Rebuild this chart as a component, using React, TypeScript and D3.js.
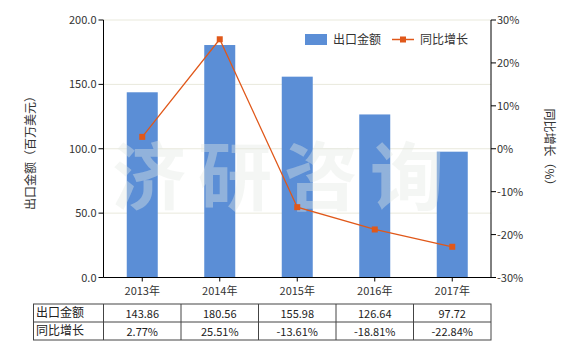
import React from "react";
import * as d3 from "d3";

const categories = ["2013年", "2014年", "2015年", "2016年", "2017年"];
const exportValues = [143.86, 180.56, 155.98, 126.64, 97.72];
const growthValues = [2.77, 25.51, -13.61, -18.81, -22.84];
const exportLabels = ["143.86", "180.56", "155.98", "126.64", "97.72"];
const growthLabels = ["2.77%", "25.51%", "-13.61%", "-18.81%", "-22.84%"];
const leftTicks = [0, 50, 100, 150, 200];
const rightTicks = [-30, -20, -10, 0, 10, 20, 30];
const seriesNames = ["出口金额", "同比增长"];

const W = 580, H = 350;
const L = 103.5, R = 491, T = 20, B = 277.5;
const font = "'Noto Sans CJK SC', 'DejaVu Sans', sans-serif";
const BAR = "#5B8ED6";
const LINE = "#E0581A";

export default function App() {
  const x = d3.scaleBand().domain(categories).range([L, R]).paddingInner(0.6).paddingOuter(0.3);
  const xc = (c: string) => (x(c) as number) + x.bandwidth() / 2;
  const yL = d3.scaleLinear().domain([0, 200]).range([B, T]);
  const yR = d3.scaleLinear().domain([-30, 30]).range([B, T]);
  const line = d3.line<number>().x((_, i) => xc(categories[i])).y((d) => yR(d));
  const step = (R - L) / categories.length;
  const tTop = 304, rowH = 18;
  const colX = (i: number) => L + i * step;

  return (
    <svg width={W} height={H} style={{ position: "absolute", left: 0, top: 0, background: "#fff" }} fontFamily={font}>
      {leftTicks.map((t) => (
        <line key={"g" + t} x1={L} x2={R} y1={yL(t)} y2={yL(t)} stroke="#e9e9dc" strokeWidth={1} />
      ))}
      {categories.map((c, i) => (
        <rect key={c} x={x(c)} y={yL(exportValues[i])} width={x.bandwidth()} height={B - yL(exportValues[i])} fill={BAR} />
      ))}
      <text x={284} y={204} textAnchor="middle" fontSize={74} fontWeight="bold" fill="#e4e8e4" fillOpacity={0.4} letterSpacing={12}>济研咨询</text>
      <path d={line(growthValues) || ""} fill="none" stroke={LINE} strokeWidth={1.3} />
      {growthValues.map((v, i) => (
        <rect key={i} x={xc(categories[i]) - 3} y={yR(v) - 3} width={6} height={6} fill={LINE} />
      ))}
      {/* left axis */}
      <line x1={L} x2={L} y1={T} y2={B} stroke="#000" />
      {leftTicks.map((t) => (
        <g key={"l" + t}>
          <line x1={L - 5} x2={L} y1={yL(t)} y2={yL(t)} stroke="#000" />
          <text x={L - 7} y={yL(t) + 4} textAnchor="end" fontSize={11} fill="#333">{t.toFixed(1)}</text>
        </g>
      ))}
      {/* right axis */}
      <line x1={R} x2={R} y1={T} y2={B} stroke="#000" />
      {rightTicks.map((t) => (
        <g key={"r" + t}>
          <line x1={R} x2={R + 5} y1={yR(t)} y2={yR(t)} stroke="#000" />
          <text x={R + 6} y={yR(t) + 4} textAnchor="start" fontSize={11} fill="#333">{t + "%"}</text>
        </g>
      ))}
      {/* x axis */}
      <line x1={L} x2={R} y1={B} y2={B} stroke="#000" />
      {categories.map((c) => (
        <g key={"x" + c}>
          <line x1={xc(c)} x2={xc(c)} y1={B} y2={B + 4} stroke="#000" />
          <text x={xc(c)} y={B + 17} textAnchor="middle" fontSize={11} fill="#333">{c}</text>
        </g>
      ))}
      {/* axis titles */}
      <text transform={`translate(35,150) rotate(-90)`} textAnchor="middle" fontSize={12} fill="#333">出口金额（百万美元）</text>
      <text transform={`translate(545,150) rotate(90)`} textAnchor="middle" fontSize={12} fill="#333">同比增长（%）</text>
      {/* legend */}
      <rect x={305} y={34} width={22} height={11} fill={BAR} />
      <text x={333} y={44} fontSize={12} fill="#333">{seriesNames[0]}</text>
      <line x1={392} x2={414} y1={39.5} y2={39.5} stroke={LINE} strokeWidth={1.5} />
      <rect x={400} y={36.5} width={6} height={6} fill={LINE} />
      <text x={420} y={44} fontSize={12} fill="#333">{seriesNames[1]}</text>
      {/* table */}
      <g stroke="#444" strokeWidth={1} fill="none">
        <rect x={33.5} y={tTop} width={R - 33.5} height={rowH * 2} />
        <line x1={33.5} x2={R} y1={tTop + rowH} y2={tTop + rowH} />
        <line x1={L} x2={L} y1={tTop} y2={tTop + rowH * 2} />
        {categories.slice(1).map((c, i) => (
          <line key={"tc" + c} x1={colX(i + 1)} x2={colX(i + 1)} y1={tTop} y2={tTop + rowH * 2} />
        ))}
      </g>
      <text x={36} y={tTop + 13} fontSize={12} fill="#222">{seriesNames[0]}</text>
      <text x={36} y={tTop + rowH + 13} fontSize={12} fill="#222">{seriesNames[1]}</text>
      {categories.map((c, i) => (
        <g key={"tv" + c}>
          <text x={xc(c)} y={tTop + 14} textAnchor="middle" fontSize={11} fill="#222">{exportLabels[i]}</text>
          <text x={xc(c)} y={tTop + rowH + 14} textAnchor="middle" fontSize={11} fill="#222">{growthLabels[i]}</text>
        </g>
      ))}
    </svg>
  );
}
